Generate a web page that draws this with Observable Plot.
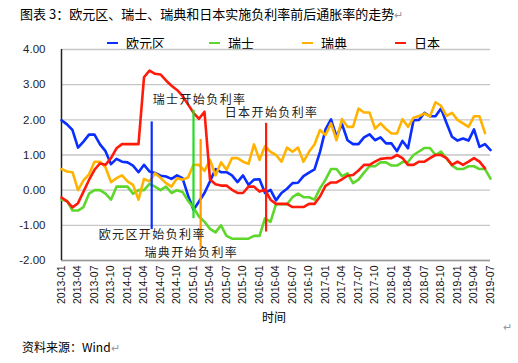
<!DOCTYPE html>
<html><head><meta charset="utf-8">
<script src="https://cdn.jsdelivr.net/npm/d3@7"></script>
<script src="https://cdn.jsdelivr.net/npm/@observablehq/plot@0.6"></script>
<style>
body{margin:0;background:#fff;}
#wrap{position:relative;width:518px;height:363px;overflow:hidden;background:#fff;font-family:"Noto Sans CJK SC","Noto Sans",sans-serif;color:#000;}
#title{position:absolute;left:20px;top:5px;font-size:13px;line-height:17px;white-space:nowrap;}
.ret{color:#999;font-size:11px;}
#chart{position:absolute;left:0;top:30px;}
.leg{position:absolute;top:34px;font-size:13px;line-height:17px;white-space:nowrap;}
.leg i{display:inline-block;width:11px;height:2px;vertical-align:middle;margin-right:8px;position:relative;top:-1px;}
#xlab{position:absolute;left:262px;top:309px;font-size:12px;line-height:16px;}
#cap{position:absolute;left:22px;top:339px;font-size:12px;line-height:16px;white-space:nowrap;}
#ret2{position:absolute;left:503px;top:318px;}
#chart g[aria-label="text"] text{letter-spacing:1.4px;}
</style>
</head><body>
<div id="wrap">
  <div id="title">图表 3：欧元区、瑞士、瑞典和日本实施负利率前后通胀率的走势<span class="ret">↵</span></div>
  <div id="legend"></div>
  <div id="chart"></div>
  <div id="xlab">时间</div>
  <div id="cap">资料来源：Wind<span class="ret">↵</span></div>
  <div id="ret2" class="ret">↵</div>
</div>
<script>
// x tick labels (every 3 months, month index 0 = 2013-01)
const tickLabels = ["2013-01","2013-04","2013-07","2013-10","2014-01","2014-04","2014-07","2014-10",
  "2015-01","2015-04","2015-07","2015-10","2016-01","2016-04","2016-07","2016-10",
  "2017-01","2017-04","2017-07","2017-10","2018-01","2018-04","2018-07","2018-10",
  "2019-01","2019-04","2019-07"];
const yTicks = [-2, -1, 0, 1, 2, 3, 4];

const seriesNames = ["欧元区", "瑞士", "瑞典", "日本"];
const seriesColors = ["#0a2eff", "#5ed62c", "#ffb300", "#ff1a0a"];

// monthly inflation (%), from 2013-01
const euro = [1.99,1.87,1.71,1.21,1.38,1.58,1.58,1.30,1.11,0.74,0.89,0.81,0.79,0.70,0.51,0.72,0.53,0.49,0.41,0.39,
  0.32,0.42,0.34,-0.15,-0.56,-0.32,-0.08,0.25,0.60,0.51,0.51,0.42,0.23,0.42,0.15,0.30,0.31,-0.08,0.01,-0.29,
  -0.08,0.04,0.20,0.21,0.40,0.50,0.59,1.09,1.73,2.01,1.52,1.88,1.42,1.31,1.31,1.50,1.59,1.42,1.50,1.33,
  1.33,1.11,1.40,1.19,1.99,2.00,2.20,2.10,2.10,2.32,1.91,1.52,1.41,1.47,1.41,1.73,1.23,1.31,1.14];
const swiss = [-0.27,-0.30,-0.58,-0.58,-0.48,-0.10,0.00,0.00,-0.10,-0.27,0.10,0.10,0.10,-0.10,0.00,0.00,0.18,0.10,0.00,0.10,
  -0.08,0.00,-0.05,-0.30,-0.50,-0.75,-0.90,-1.10,-1.20,-1.00,-1.30,-1.38,-1.38,-1.38,-1.38,-1.30,-1.30,-0.80,-0.90,-0.40,
  -0.40,-0.40,-0.20,-0.10,-0.20,-0.20,-0.27,0.05,0.30,0.60,0.60,0.40,0.48,0.20,0.30,0.50,0.68,0.68,0.79,0.79,
  0.70,0.70,0.80,0.80,1.00,1.10,1.20,1.20,1.00,1.10,0.90,0.70,0.60,0.60,0.68,0.68,0.60,0.60,0.33];
const sweden = [0.60,0.53,0.51,0.00,0.28,0.45,0.81,0.81,0.65,0.23,0.34,0.42,0.25,0.15,-0.27,0.32,0.25,0.48,0.35,0.20,
  0.10,0.34,0.30,0.36,0.72,0.72,0.55,0.86,0.42,0.79,0.58,0.91,0.91,0.81,0.75,1.30,0.86,1.25,1.09,1.00,
  0.81,1.21,1.09,1.21,0.81,1.09,1.30,1.71,1.57,1.90,1.42,2.02,1.80,1.80,2.32,2.21,2.21,1.75,1.90,1.74,
  1.61,1.61,2.02,1.80,2.06,2.11,2.18,2.10,2.50,2.40,2.11,2.20,2.00,1.90,1.80,2.10,2.10,1.62];
const japan = [-0.21,-0.32,-0.49,-0.37,-0.04,0.29,0.58,0.76,0.72,0.91,1.19,1.31,1.31,1.31,1.31,3.21,3.40,3.31,3.29,3.12,
  2.97,2.85,2.68,2.44,2.20,2.03,2.23,0.30,0.17,0.13,0.13,0.01,-0.08,-0.08,0.10,0.10,-0.04,0.01,-0.27,-0.39,
  -0.39,-0.39,-0.48,-0.48,-0.48,-0.39,-0.39,-0.18,0.12,0.22,0.22,0.31,0.41,0.43,0.56,0.72,0.72,0.81,0.89,0.91,
  0.91,1.00,0.91,0.72,0.72,0.81,0.81,0.91,1.00,1.00,0.91,0.72,0.81,0.72,0.81,0.91,0.81,0.62];

// negative-rate start markers (month index, vertical extent)
const markerX = [16.4, 24, 25.3, 37.2];
const markerTop = [1.94, 2.27, 1.44, 1.90];
const markerBottom = [-1.12, -0.81, -1.64, -1.19];
const markerColors = ["#0a2eff", "#22dd22", "#ff9900", "#ff1a0a"];

const annoText = ["欧元区开始负利率", "瑞士开始负利率", "瑞典开始负利率", "日本开始负利率"];
const annoX = [16.5, 25.1, 23.6, 38.2];
const annoY = [-1.28, 2.56, -1.79, 2.18];

const seriesData = [euro, swiss, sweden, japan];
const markers = markerX.map((x, k) => ({x, y1: markerTop[k], y2: markerBottom[k], color: markerColors[k]}));
const annos = annoText.map((t, k) => ({t, x: annoX[k], y: annoY[k]}));
const tickIdx = tickLabels.map((_, k) => k * 3);

const chart = Plot.plot({
  width: 518, height: 300,
  marginTop: 19, marginBottom: 70, marginLeft: 61, marginRight: 28,
  style: {fontFamily: "'Liberation Sans', Arial, sans-serif", background: "transparent", overflow: "visible"},
  x: {domain: [0, 78], axis: null},
  y: {domain: [-2, 4], axis: null},
  marks: [
    Plot.ruleY(yTicks, {stroke: "#c6c6c6", strokeWidth: 1.3}),
    Plot.ruleY([-2], {stroke: "#9a9a9a", strokeWidth: 1.3}),
    Plot.ruleX([0], {stroke: "#222", strokeWidth: 1.5}),
    ...seriesData.map((arr, s) => Plot.line(arr, {x: (d, i) => i, y: d => d, stroke: seriesColors[s], strokeWidth: 2.6})),
    ...markers.map(m => Plot.ruleX([m], {x: "x", y1: "y1", y2: "y2", stroke: m.color, strokeWidth: 2.2})),
    Plot.text(annos, {x: "x", y: "y", text: "t", fontSize: 12, fill: "#222", fontFamily: "'Noto Sans CJK SC', sans-serif"}),
    Plot.axisX(tickIdx, {tickFormat: i => tickLabels[i / 3], tickRotate: -90, tickSize: 0, tickPadding: 5, fontSize: 10.5, fill: "#111", label: null}),
    Plot.axisY(yTicks, {tickFormat: d => d.toFixed(2), tickSize: 0, tickPadding: 16, fontSize: 11.5, fill: "#222", label: null})
  ]
});
document.getElementById("chart").appendChild(chart);

// legend
const legX = [107, 209, 302, 395];
const leg = document.getElementById("legend");
seriesNames.forEach((n, k) => {
  const d = document.createElement("div");
  d.className = "leg";
  d.style.left = legX[k] + "px";
  d.innerHTML = `<i style="background:${seriesColors[k]}"></i>${n}`;
  leg.appendChild(d);
});
</script>
</body></html>
